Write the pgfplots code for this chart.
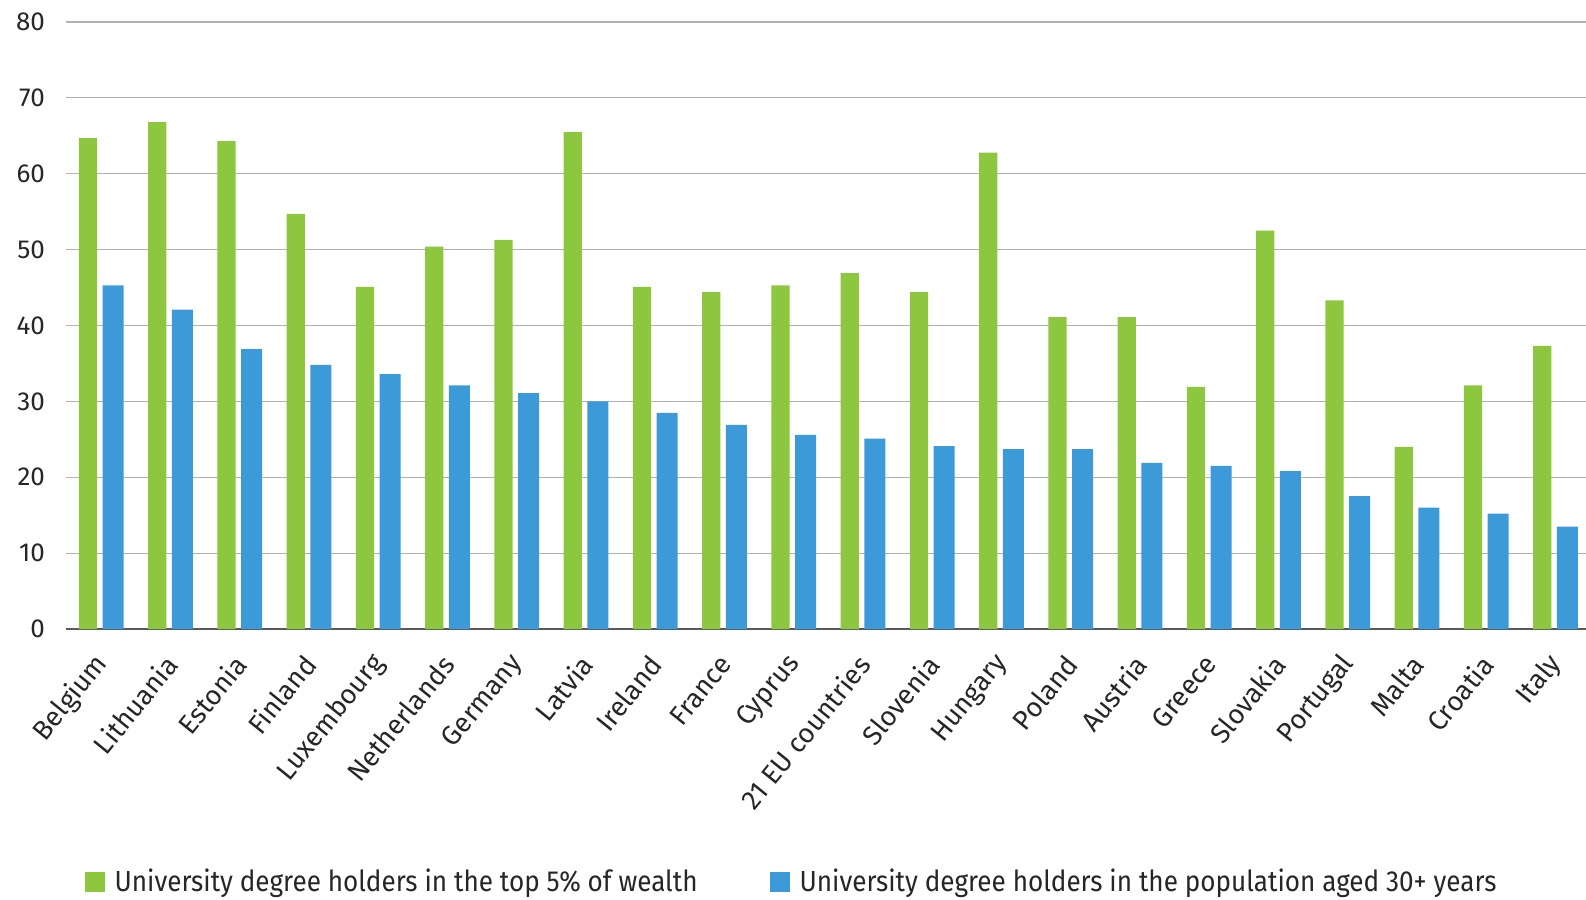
\documentclass[border=0pt]{standalone}
\usepackage{fontspec}
\setmainfont{Fira Sans}
\newfontfamily\condfont[FakeStretch=0.9]{Fira Sans}
\usepackage{pgfplots}
\pgfplotsset{compat=1.18}
\definecolor{wgreen}{HTML}{8DC63F}
\definecolor{pblue}{HTML}{3D9AD9}

\begin{document}
\begin{tikzpicture}
\useasboundingbox (-33pt,-135.5pt) rectangle (760pt,314.5pt);
\begin{axis}[
    at={(0,0)}, anchor=south west,
    scale only axis,
    width=760pt, height=303.5pt,
    xmin=-0.5, xmax=21.45,
    ymin=0, ymax=80,
    ytick={0,10,...,80},
    xtick=data,
    xticklabels={Belgium, Lithuania, Estonia, Finland, Luxembourg, Netherlands,
      Germany, Latvia, Ireland, France, Cyprus, 21 EU countries, Slovenia,
      Hungary, Poland, Austria, Greece, Slovakia, Portugal, Malta, Croatia, Italy},
    axis lines*=left,
    y axis line style={draw=none},
    x axis line style={draw=black!65, line width=0.9pt},
    major tick length=0pt,
    ymajorgrids,
    major grid style={draw=black!30, line width=0.6pt},
    /pgf/number format/assume math mode=true,
    yticklabel style={font=\fontsize{13}{15}\selectfont, text=black!85, xshift=-7pt},
    xticklabel style={font=\fontsize{13.6}{15}\selectfont, text=black!85,
      yshift=-15pt, xshift=1pt, rotate=51, anchor=east, inner sep=0pt},
    legend columns=2,
    legend style={at={(0.478,-0.417)}, anchor=center, draw=none,
      font=\condfont\fontsize{14.5}{17}\selectfont, text=black!85,
      /tikz/every odd column/.append style={column sep=3pt},
      /tikz/every even column/.append style={column sep=34pt}},
    legend image code/.code={\fill[#1] (0pt,-5pt) rectangle (10pt,5pt);},
]
% top 5% of wealth
\addplot[ybar, fill=wgreen, draw=none, bar width=9.2pt, bar shift=-6.3pt] coordinates {
  (0,64.7) (1,66.8) (2,64.3) (3,54.7) (4,45.1) (5,50.4) (6,51.3) (7,65.5)
  (8,45.1) (9,44.4) (10,45.3) (11,46.9) (12,44.4) (13,62.8) (14,41.1) (15,41.1)
  (16,31.9) (17,52.5) (18,43.3) (19,24.0) (20,32.1) (21,37.3)
};
\addlegendentry{University degree holders in the top 5\% of wealth}
% population aged 30+
\addplot[ybar, fill=pblue, draw=none, bar width=10.5pt, bar shift=6.3pt] coordinates {
  (0,45.3) (1,42.1) (2,36.9) (3,34.8) (4,33.6) (5,32.1) (6,31.1) (7,30.0)
  (8,28.5) (9,26.9) (10,25.6) (11,25.1) (12,24.1) (13,23.7) (14,23.7) (15,21.9)
  (16,21.5) (17,20.8) (18,17.5) (19,16.0) (20,15.2) (21,13.5)
};
\addlegendentry{University degree holders in the population aged 30+ years}
\end{axis}
\end{tikzpicture}
\end{document}
